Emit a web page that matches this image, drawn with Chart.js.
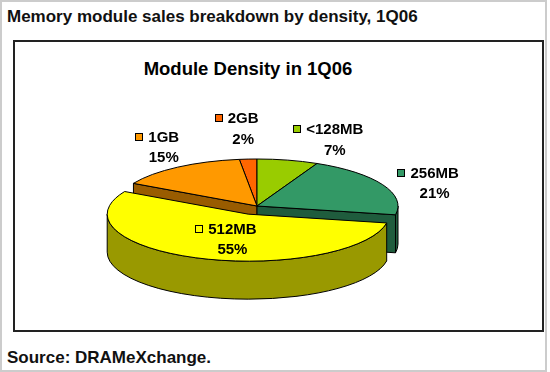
<!DOCTYPE html>
<html>
<head>
<meta charset="utf-8">
<script src="https://cdn.jsdelivr.net/npm/chart.js@4"></script>
<style>
html,body{margin:0;padding:0;background:#fff;}
body{width:550px;height:372px;position:relative;overflow:hidden;font-family:"Liberation Sans",Arial,sans-serif;}
#frame{position:absolute;left:0;top:0;width:543px;height:368px;border:2px solid #cccccc;}
#box{position:absolute;left:13px;top:40px;width:527px;height:288px;border:2px solid #222;}
.t{position:absolute;font-weight:bold;color:#111;white-space:nowrap;}
#title{left:7px;top:7px;font-size:17px;line-height:20px;}
#source{left:7px;top:348px;font-size:17px;line-height:20px;}
#ctitle{left:0;width:496px;text-align:center;top:57.6px;font-size:18.5px;line-height:22px;color:#000;}
canvas{position:absolute;left:0;top:0;}
</style>
</head>
<body>
<div id="frame"></div>
<div id="box"></div>
<div class="t" id="title">Memory module sales breakdown by density, 1Q06</div>
<div class="t" id="ctitle">Module Density in 1Q06</div>
<div class="t" id="source">Source: DRAMeXchange.</div>
<canvas id="c" width="550" height="372"></canvas>
<script>
// ---- data ----
const categories = ['<128MB', '256MB', '512MB', '1GB', '2GB'];
const shares = [7, 21, 55, 15, 2];

// ---- styles / layout ----
const topColors = ['#99CC00', '#339966', '#FFFF00', '#FF9900', '#FF6600'];
const sideColors = ['#5C7A00', '#1F5C3D', '#999900', '#995C00', '#993D00'];
const explode = [0, 0, 26, 0, 0];           // radial pull-out (pie space)
const labelNudge = [[47, -26], [52, -7], [32, -24.5], [-14, -25.5], [-5, -36]];
const SQUASH = 1 / 3;   // vertical tilt of the pie
const DEPTH = 38;       // wall height in screen px
const FONT = '"Liberation Sans", Arial, sans-serif';

function itemsOf(chart) {
  const arcs = chart.getDatasetMeta(0).data;
  return arcs.map((a, i) => {
    const m = (a.startAngle + a.endAngle) / 2;
    const dx = Math.cos(m) * explode[i], dy = Math.sin(m) * explode[i];
    return {a, i, m, dx, dy, key: Math.sin(m) * a.outerRadius + dy};
  });
}

const pie3d = {
  id: 'pie3d',
  beforeDatasetsDraw(chart) {
    const ctx = chart.ctx;
    const items = itemsOf(chart);
    if (!items.length) return;
    const cy = items[0].a.y;
    const Dp = DEPTH / SQUASH;
    const enter = (it) => {
      ctx.save();
      ctx.translate(0, cy); ctx.scale(1, SQUASH); ctx.translate(0, -cy);
      ctx.translate(it.dx, it.dy);
    };
    items.slice().sort((p, q) => p.key - q.key).forEach(it => {
      const a = it.a, x = a.x, y = a.y, R = a.outerRadius, a0 = a.startAngle, a1 = a.endAngle;
      const side = sideColors[it.i];
      const shape = (build) => {
        enter(it); ctx.beginPath(); build(); ctx.restore();
        ctx.fillStyle = side; ctx.fill();
        ctx.lineWidth = 1; ctx.strokeStyle = '#000'; ctx.stroke();
      };
      // radial cut faces
      [[a0, Math.cos(a0) < -1e-6], [a1, Math.cos(a1) > 1e-6]].forEach(([ang, vis]) => {
        if (!vis) return;
        shape(() => {
          const ex = x + R * Math.cos(ang), ey = y + R * Math.sin(ang);
          ctx.moveTo(x, y); ctx.lineTo(ex, ey); ctx.lineTo(ex, ey + Dp); ctx.lineTo(x, y + Dp); ctx.closePath();
        });
      });
      // outer wall (front half only)
      const w0 = Math.max(a0, 0), w1 = Math.min(a1, Math.PI);
      if (w1 > w0) shape(() => {
        ctx.arc(x, y, R, w0, w1);
        ctx.arc(x, y + Dp, R, w1, w0, true);
        ctx.closePath();
      });
      // top face by the library's arc element
      enter(it); a.draw(ctx); ctx.restore();
      enter(it); ctx.beginPath(); ctx.moveTo(x, y); ctx.arc(x, y, R, a0, a1); ctx.closePath(); ctx.restore();
      ctx.lineWidth = 1; ctx.strokeStyle = '#000'; ctx.stroke();
    });
    return false;
  },
  afterDraw(chart) {
    const ctx = chart.ctx;
    const items = itemsOf(chart);
    if (!items.length) return;
    const total = shares.reduce((s, v) => s + v, 0);
    ctx.save();
    ctx.font = 'bold 15px ' + FONT;
    ctx.textBaseline = 'alphabetic';
    ctx.textAlign = 'center';
    items.forEach(it => {
      const a = it.a, R = a.outerRadius;
      const ax = a.x + R * Math.cos(it.m) + it.dx;
      const ay = a.y + (R * Math.sin(it.m) + it.dy) * SQUASH;
      const lx = ax + labelNudge[it.i][0], ly = ay + labelNudge[it.i][1];
      const name = categories[it.i];
      const w = ctx.measureText(name).width;
      ctx.fillStyle = '#000';
      ctx.fillText(name, lx, ly);
      ctx.fillText(Math.round(shares[it.i] / total * 100) + '%', lx, ly + 20.5);
      const sx = Math.round(lx - w / 2 - 13), sy = Math.round(ly - 9);
      ctx.fillStyle = topColors[it.i];
      ctx.fillRect(sx, sy, 8, 8);
      ctx.lineWidth = 1; ctx.strokeStyle = '#000';
      ctx.strokeRect(sx + 0.5, sy + 0.5, 7, 7);
    });
    ctx.restore();
  }
};

new Chart(document.getElementById('c'), {
  type: 'pie',
  data: {
    labels: categories,
    datasets: [{
      data: shares,
      backgroundColor: topColors,
      borderWidth: 0,
      radius: 141
    }]
  },
  options: {
    responsive: false,
    animation: false,
    events: [],
    layout: {padding: {left: 0, right: 36, top: 40, bottom: 0}},
    plugins: {legend: {display: false}, tooltip: {enabled: false}, title: {display: false}}
  },
  plugins: [pie3d]
});
</script>
</body>
</html>
